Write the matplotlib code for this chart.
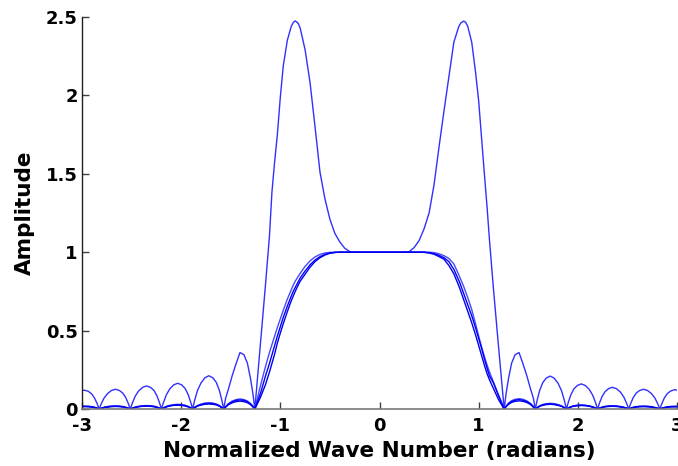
import matplotlib
matplotlib.use("Agg")
from matplotlib import pyplot as plt
import numpy as np

# ---- x nodes (radians) ----
x_left = [-3.0, -2.977, -2.937, -2.902, -2.872, -2.847,
          -2.827, -2.808, -2.778, -2.743, -2.703, -2.663, -2.623, -2.588, -2.558, -2.533,
          -2.513, -2.494, -2.464, -2.429, -2.389, -2.349, -2.309, -2.274, -2.244, -2.219,
          -2.199, -2.18, -2.15, -2.115, -2.075, -2.035, -1.995, -1.96, -1.93, -1.905,
          -1.885, -1.866, -1.836, -1.801, -1.761, -1.721, -1.681, -1.646, -1.616, -1.591,
          -1.571, -1.552, -1.522, -1.487, -1.447, -1.407, -1.367, -1.332, -1.302, -1.277]
x_mid = [-1.257, -1.2, -1.15, -1.11, -1.085, -1.06, -1.03, -1.0, -0.97, -0.93,
         -0.89, -0.87, -0.85, -0.82, -0.8, -0.75, -0.7, -0.65, -0.6, -0.55, -0.5, -0.45,
         -0.4, -0.35, -0.3, -0.25, -0.2, -0.1, 0.0, 0.1, 0.2, 0.25, 0.3, 0.35, 0.4,
         0.45, 0.5, 0.55, 0.6, 0.65, 0.7, 0.75, 0.8, 0.82, 0.85, 0.87, 0.89, 0.93, 0.97,
         1.0, 1.03, 1.06, 1.085, 1.11, 1.15, 1.2]
x_right = [1.257, 1.277, 1.302, 1.332, 1.367, 1.407, 1.447, 1.487, 1.522, 1.552,
           1.571, 1.591, 1.616, 1.646, 1.681, 1.721, 1.761, 1.801, 1.836, 1.866,
           1.885, 1.905, 1.93, 1.96, 1.995, 2.035, 2.075, 2.115, 2.15, 2.18,
           2.199, 2.219, 2.244, 2.274, 2.309, 2.349, 2.389, 2.429, 2.464, 2.494,
           2.513, 2.533, 2.558, 2.588, 2.623, 2.663, 2.703, 2.743, 2.778, 2.808,
           2.827, 2.847, 2.872, 2.902, 2.937, 2.977, 3.0]

# ---- curve with the two big peaks ----
peak_left = [0.117, 0.12, 0.113, 0.096, 0.068, 0.034,
             0, 0.03, 0.069, 0.098, 0.118, 0.126, 0.118, 0.101, 0.072, 0.035,
             0, 0.035, 0.081, 0.115, 0.138, 0.147, 0.138, 0.118, 0.084, 0.041,
             0, 0.039, 0.09, 0.128, 0.154, 0.164, 0.154, 0.131, 0.093, 0.046,
             0, 0.051, 0.117, 0.165, 0.199, 0.212, 0.199, 0.17, 0.121, 0.059,
             0, 0.068, 0.13, 0.209, 0.288, 0.36, 0.346, 0.292, 0.198, 0.10]
peak_mid = [0, 0.42, 0.79, 1.10, 1.38, 1.56, 1.75, 1.99, 2.19, 2.35,
            2.44, 2.465, 2.475, 2.46, 2.43, 2.29, 2.08, 1.80, 1.51, 1.34, 1.21, 1.12,
            1.065, 1.025, 1.004, 1.0, 1.0, 1.0, 1.0, 1.0, 1.0, 1.0, 1.004, 1.03, 1.075,
            1.15, 1.25, 1.43, 1.67, 1.90, 2.12, 2.34, 2.44, 2.462, 2.474, 2.465, 2.44, 2.34, 2.14,
            1.965, 1.72, 1.48, 1.285, 1.07, 0.76, 0.40]
peak_right = [0, 0.10, 0.198, 0.292, 0.346, 0.36, 0.288, 0.209, 0.13, 0.068,
              0, 0.059, 0.12, 0.168, 0.197, 0.21, 0.197, 0.164, 0.116, 0.05,
              0, 0.045, 0.091, 0.128, 0.15, 0.16, 0.15, 0.125, 0.088, 0.038,
              0, 0.039, 0.079, 0.11, 0.13, 0.138, 0.13, 0.108, 0.076, 0.033,
              0, 0.035, 0.072, 0.101, 0.118, 0.126, 0.118, 0.098, 0.069, 0.03,
              0, 0.034, 0.07, 0.098, 0.115, 0.123, 0.12]

# ---- flat-top curves (outer / middle / inner) ----
flat1_left = [0.019, 0.019, 0.018, 0.015, 0.011, 0.005,
              0, 0.005, 0.011, 0.016, 0.019, 0.02, 0.019, 0.016, 0.011, 0.006,
              0, 0.005, 0.012, 0.017, 0.021, 0.022, 0.021, 0.018, 0.013, 0.006,
              0, 0.007, 0.017, 0.023, 0.028, 0.03, 0.028, 0.024, 0.017, 0.008,
              0, 0.01, 0.022, 0.031, 0.038, 0.04, 0.038, 0.032, 0.023, 0.011,
              0, 0.015, 0.035, 0.05, 0.06, 0.064, 0.06, 0.051, 0.036, 0.018]
flat1_mid = [0, 0.15, 0.27, 0.36, 0.41, 0.46, 0.52, 0.575, 0.63, 0.70,
             0.76, 0.79, 0.815, 0.845, 0.865, 0.91, 0.945, 0.97, 0.986, 0.995, 0.999, 1.0,
             1.0, 1.0, 1.0, 1.0, 1.0, 1.0, 1.0, 1.0, 1.0, 1.0, 1.0, 1.0, 1.0,
             1.0, 1.0, 0.997, 0.99, 0.978, 0.96, 0.925, 0.855, 0.825, 0.78, 0.745, 0.71, 0.635, 0.54,
             0.465, 0.395, 0.33, 0.28, 0.235, 0.17, 0.09]
flat1_right = [0, 0.018, 0.038, 0.053, 0.062, 0.066, 0.062, 0.051, 0.036, 0.016,
               0, 0.01, 0.021, 0.029, 0.034, 0.036, 0.034, 0.028, 0.02, 0.009,
               0, 0.007, 0.015, 0.021, 0.024, 0.026, 0.024, 0.02, 0.014, 0.006,
               0, 0.006, 0.012, 0.017, 0.02, 0.021, 0.02, 0.016, 0.012, 0.005,
               0, 0.005, 0.011, 0.015, 0.018, 0.019, 0.018, 0.015, 0.01, 0.005,
               0, 0.005, 0.01, 0.014, 0.017, 0.018, 0.018]

flat2_left = [0.017, 0.017, 0.016, 0.014, 0.01, 0.005,
              0, 0.004, 0.01, 0.014, 0.017, 0.018, 0.017, 0.014, 0.01, 0.005,
              0, 0.005, 0.011, 0.016, 0.019, 0.02, 0.019, 0.016, 0.011, 0.006,
              0, 0.006, 0.015, 0.021, 0.025, 0.027, 0.025, 0.022, 0.015, 0.008,
              0, 0.009, 0.02, 0.028, 0.034, 0.036, 0.034, 0.029, 0.021, 0.01,
              0, 0.014, 0.032, 0.045, 0.055, 0.058, 0.055, 0.046, 0.033, 0.016]
flat2_mid = [0, 0.10, 0.21, 0.29, 0.345, 0.40, 0.465, 0.525, 0.585, 0.655,
             0.72, 0.75, 0.775, 0.81, 0.835, 0.88, 0.92, 0.95, 0.972, 0.986, 0.995, 0.999,
             1.0, 1.0, 1.0, 1.0, 1.0, 1.0, 1.0, 1.0, 1.0, 1.0, 1.0, 1.0, 1.0,
             1.0, 0.997, 0.991, 0.98, 0.965, 0.94, 0.89, 0.82, 0.787, 0.735, 0.70, 0.665, 0.595, 0.515,
             0.45, 0.385, 0.315, 0.26, 0.21, 0.165, 0.085]
flat2_right = [0, 0.017, 0.034, 0.048, 0.056, 0.06, 0.056, 0.047, 0.033, 0.014,
               0, 0.009, 0.019, 0.026, 0.031, 0.033, 0.031, 0.026, 0.018, 0.008,
               0, 0.007, 0.014, 0.019, 0.023, 0.024, 0.023, 0.019, 0.013, 0.006,
               0, 0.005, 0.011, 0.015, 0.018, 0.019, 0.018, 0.015, 0.01, 0.005,
               0, 0.005, 0.01, 0.014, 0.016, 0.017, 0.016, 0.013, 0.009, 0.004,
               0, 0.004, 0.009, 0.013, 0.015, 0.016, 0.016]

flat3_left = [0.015, 0.015, 0.014, 0.012, 0.009, 0.004,
              0, 0.004, 0.009, 0.012, 0.015, 0.016, 0.015, 0.013, 0.009, 0.004,
              0, 0.004, 0.01, 0.014, 0.017, 0.018, 0.017, 0.014, 0.01, 0.005,
              0, 0.006, 0.013, 0.019, 0.023, 0.024, 0.023, 0.019, 0.014, 0.007,
              0, 0.008, 0.018, 0.025, 0.03, 0.032, 0.03, 0.026, 0.018, 0.009,
              0, 0.012, 0.028, 0.039, 0.047, 0.05, 0.047, 0.04, 0.029, 0.014]
flat3_mid = [0, 0.075, 0.155, 0.235, 0.29, 0.345, 0.42, 0.485, 0.545, 0.62,
             0.69, 0.72, 0.75, 0.79, 0.815, 0.86, 0.905, 0.94, 0.965, 0.982, 0.993, 0.998,
             1.0, 1.0, 1.0, 1.0, 1.0, 1.0, 1.0, 1.0, 1.0, 1.0, 1.0, 1.0, 1.0,
             0.999, 0.995, 0.987, 0.972, 0.955, 0.915, 0.862, 0.785, 0.75, 0.695, 0.657, 0.62, 0.55, 0.47,
             0.405, 0.34, 0.275, 0.225, 0.185, 0.13, 0.06]
flat3_right = [0, 0.015, 0.03, 0.042, 0.049, 0.052, 0.049, 0.041, 0.029, 0.012,
               0, 0.008, 0.017, 0.024, 0.028, 0.03, 0.028, 0.023, 0.017, 0.007,
               0, 0.006, 0.013, 0.018, 0.021, 0.022, 0.021, 0.017, 0.012, 0.005,
               0, 0.005, 0.01, 0.014, 0.016, 0.017, 0.016, 0.013, 0.009, 0.004,
               0, 0.004, 0.009, 0.012, 0.014, 0.015, 0.014, 0.012, 0.008, 0.004,
               0, 0.004, 0.008, 0.011, 0.013, 0.014, 0.014]

x_ticks = [-3, -2, -1, 0, 1, 2, 3]
y_ticks = [0, 0.5, 1, 1.5, 2, 2.5]
y_tick_labels = ["0", "0.5", "1", "1.5", "2", "2.5"]

x = np.array(x_left + x_mid + x_right)
curves = [
    (peak_left + peak_mid + peak_right, "#3030ff", 1.0),
    (flat1_left + flat1_mid + flat1_right, "#4848ff", 1.0),
    (flat2_left + flat2_mid + flat2_right, "#0000ff", 1.0),
    (flat3_left + flat3_mid + flat3_right, "#0000ee", 1.0),
]

plt.rcParams['font.family'] = ['DejaVu Sans']
plt.rcParams['font.weight'] = 'bold'

fig = plt.figure(figsize=(6.78, 4.66), dpi=100)
ax = fig.add_axes([82 / 678, 57 / 466, 595 / 678, 392 / 466])

for y, c, lw in curves:
    ax.plot(x, y, color=c, linewidth=lw)

ax.set_xlim(-3, 3)
ax.set_ylim(0, 2.5)
ax.set_xticks(x_ticks)
ax.set_xticklabels([str(t) for t in x_ticks])
ax.set_yticks(y_ticks)
ax.set_yticklabels(y_tick_labels)

for side in ["top", "right"]:
    ax.spines[side].set_visible(False)
ax.spines["left"].set_color("#202020")
ax.spines["bottom"].set_color("#7a7a7a")
ax.spines["left"].set_linewidth(1.0)
ax.spines["bottom"].set_linewidth(1.2)

ax.tick_params(axis="both", direction="in", length=5, width=1.0,
               labelsize=13, colors="black")
ax.tick_params(axis="x", pad=6, color="#404040")
ax.tick_params(axis="y", pad=3, color="#404040")
for lab in ax.get_xticklabels() + ax.get_yticklabels():
    lab.set_fontweight("bold")

ax.set_xlabel("Normalized Wave Number (radians)", fontsize=15.5,
              fontweight="bold", labelpad=4)
ax.set_ylabel("Amplitude", fontsize=15.5, fontweight="bold", labelpad=8)

fig.savefig("out.png", dpi=100)
